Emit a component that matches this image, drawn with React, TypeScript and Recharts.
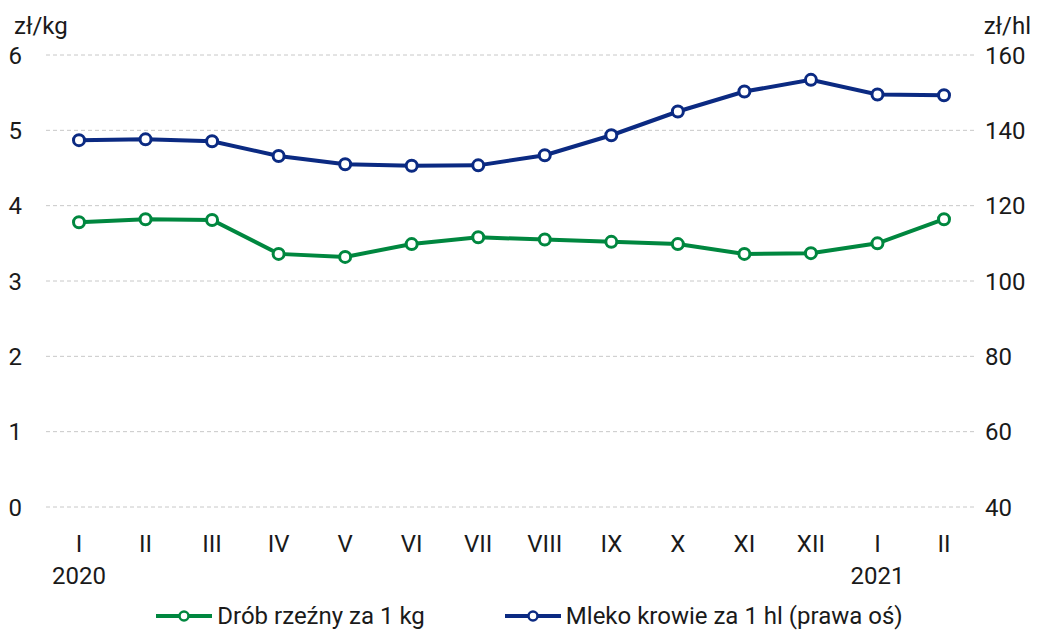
import { CartesianGrid, Legend, Line, LineChart, XAxis, YAxis } from 'recharts'

const MONTHS = ['I', 'II', 'III', 'IV', 'V', 'VI', 'VII', 'VIII', 'IX', 'X', 'XI', 'XII', 'I', 'II']
const YEARS = ['2020', '', '', '', '', '', '', '', '', '', '', '', '2021', '']
const POULTRY = [3.78, 3.82, 3.81, 3.36, 3.32, 3.49, 3.58, 3.55, 3.52, 3.49, 3.36, 3.37, 3.50, 3.82]
const MILK = [137.4, 137.6, 137.1, 133.2, 131.0, 130.6, 130.7, 133.4, 138.7, 145.0, 150.3, 153.4, 149.5, 149.3]
const LEFT_TICKS = [0, 1, 2, 3, 4, 5, 6]
const RIGHT_TICKS = [40, 60, 80, 100, 120, 140, 160]

const GREEN = '#00873f'
const BLUE = '#0b2a82'
const TEXT = '#1a1a1a'
const FONT = 'Roboto, "Open Sans", sans-serif'
const FS = 24

const data = MONTHS.map((m, i) => ({
  key: i,
  month: m,
  year: YEARS[i],
  poultry: POULTRY[i],
  milk: MILK[i],
}))

function MonthTick(props: any) {
  const { x, y, payload } = props
  const row = data[payload.value]
  return (
    <g>
      <text x={x} y={y + 37} textAnchor="middle" fontSize={FS} fill={TEXT} fontFamily={FONT}>
        {row.month}
      </text>
      {row.year && (
        <text x={x} y={y + 69} textAnchor="middle" fontSize={FS} fill={TEXT} fontFamily={FONT}>
          {row.year}
        </text>
      )}
    </g>
  )
}

function LegendBox() {
  const items = [
    { label: 'Drób rzeźny za 1 kg', color: GREEN },
    { label: 'Mleko krowie za 1 hl (prawa oś)', color: BLUE },
  ]
  return (
    <div style={{ display: 'flex', justifyContent: 'center', gap: 80, fontFamily: FONT, fontSize: FS, color: TEXT, paddingLeft: 16, paddingTop: 7, lineHeight: '28px' }}>
      {items.map((it) => (
        <span key={it.label} style={{ display: 'inline-flex', alignItems: 'center', gap: 5 }}>
          <svg width={56} height={14}>
            <line x1={0} y1={7} x2={56} y2={7} stroke={it.color} strokeWidth={4} />
            <circle cx={28} cy={7} r={4.5} fill="#fff" stroke={it.color} strokeWidth={2.5} />
          </svg>
          {it.label}
        </span>
      ))}
    </div>
  )
}

export default function App() {
  return (
    <div style={{ position: 'relative', width: 1043, height: 630, background: '#fff', fontFamily: FONT }}>
      <style>{'body{margin:0}'}</style>
      <div style={{ position: 'absolute', left: 14, top: 12, fontSize: FS, color: TEXT }}>zł/kg</div>
      <div style={{ position: 'absolute', right: 12, top: 12, fontSize: FS, color: TEXT }}>zł/hl</div>
      <LineChart width={1043} height={630} data={data} margin={{ top: 55, right: 0, bottom: 0, left: 0 }}>
        <CartesianGrid yAxisId="left" vertical={false} stroke="#c8c8c8" strokeDasharray="4 3" />
        <XAxis
          dataKey="key"
          type="category"
          padding={{ left: 33, right: 33 }}
          axisLine={false}
          tickLine={false}
          tick={<MonthTick />}
          height={88}
          interval={0}
        />
        <YAxis
          yAxisId="left"
          domain={[0, 6]}
          ticks={LEFT_TICKS}
          width={46}
          axisLine={false}
          tickLine={false}
          tickSize={0}
          tickMargin={24}
          tick={{ fontSize: FS, fill: TEXT, fontFamily: FONT }}
        />
        <YAxis
          yAxisId="right"
          orientation="right"
          domain={[40, 160]}
          ticks={RIGHT_TICKS}
          width={66}
          axisLine={false}
          tickLine={false}
          tickSize={0}
          tickMargin={8}
          tick={{ fontSize: FS, fill: TEXT, fontFamily: FONT }}
        />
        <Legend verticalAlign="bottom" height={35} content={<LegendBox />} />
        <Line
          yAxisId="left"
          dataKey="poultry"
          stroke={GREEN}
          strokeWidth={4}
          dot={{ r: 5.5, fill: '#fff', stroke: GREEN, strokeWidth: 3 }}
          isAnimationActive={false}
        />
        <Line
          yAxisId="right"
          dataKey="milk"
          stroke={BLUE}
          strokeWidth={4}
          dot={{ r: 5.5, fill: '#fff', stroke: BLUE, strokeWidth: 3 }}
          isAnimationActive={false}
        />
      </LineChart>
    </div>
  )
}
